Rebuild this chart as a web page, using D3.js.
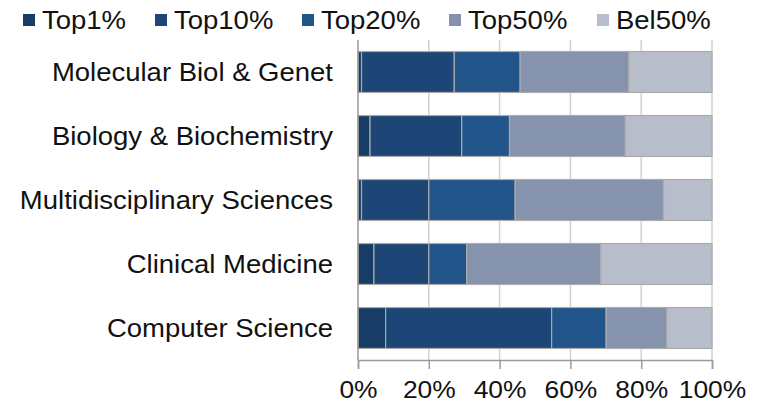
<!DOCTYPE html>
<html><head><meta charset="utf-8">
<script src="https://cdn.jsdelivr.net/npm/d3@7/dist/d3.min.js"></script>
<style>body{margin:0;background:#fff}svg{display:block}text{font-family:"Liberation Sans",Arial,sans-serif;fill:#111}</style>
</head><body><svg id="c" width="760" height="402"></svg>
<script>
const categories = ["Molecular Biol & Genet","Biology & Biochemistry","Multidisciplinary Sciences","Clinical Medicine","Computer Science"];
const seriesNames = ["Top1%","Top10%","Top20%","Top50%","Bel50%"];
const top1   = [1.0, 3.4, 1.0, 4.5, 7.8];
const top10  = [26.2, 25.9, 19.0, 15.5, 46.9];
const top20  = [18.6, 13.5, 24.4, 10.7, 15.4];
const top50  = [30.7, 32.7, 41.9, 37.9, 17.1];
const bel50  = [23.5, 24.5, 13.7, 31.4, 12.8];
const tickValues = [0, 20, 40, 60, 80, 100];
const colors = ["#173c66","#1d4676","#215589","#8693ad","#b7bdca"];

const svg = d3.select("#c");
const m = {left:358, right:48, top:40, bottom:42};
const W = 760, H = 402;
const SX = 1.1; // horizontal text stretch seen in the reference
const x = d3.scaleLinear().domain([0,100]).range([m.left, W - m.right]);
const y = d3.scaleBand().domain(categories).range([m.top, H - m.bottom]).paddingInner(0.36).paddingOuter(0.18);

const rows = categories.map((c,i)=>({cat:c, "Top1%":top1[i], "Top10%":top10[i], "Top20%":top20[i], "Top50%":top50[i], "Bel50%":bel50[i]}));
const stack = d3.stack().keys(seriesNames)(rows);

// gridlines
svg.append("g").selectAll("line").data(tickValues.slice(1)).join("line")
  .attr("x1", d=>x(d)).attr("x2", d=>x(d)).attr("y1", m.top).attr("y2", H - m.bottom)
  .attr("stroke", "#d2d2d2").attr("stroke-width", 1.5);

// bars
svg.append("g").selectAll("g").data(stack).join("g")
  .attr("fill", (d,i)=>colors[i])
  .selectAll("rect").data(d=>d).join("rect")
  .attr("x", d=>x(d[0])).attr("width", d=>x(d[1])-x(d[0]))
  .attr("y", d=>y(d.data.cat)).attr("height", y.bandwidth())
  .attr("stroke", "#ababab").attr("stroke-width", 1.2);

// x axis
const xa = svg.append("g").attr("transform", `translate(0,${H - m.bottom})`)
  .call(d3.axisBottom(x).tickValues(tickValues).tickFormat(d=>d+"%").tickSize(9).tickPadding(12));
xa.select(".domain").attr("stroke", "#9a9a9a").attr("stroke-width", 1.5);
xa.selectAll(".tick line").attr("stroke", "#9a9a9a").attr("stroke-width", 1.5);
xa.selectAll("text").attr("font-size", 24).attr("fill", "#111")
  .attr("font-family", '"Liberation Sans",Arial,sans-serif')
  .attr("transform", `scale(${SX},1)`);

// y axis line
svg.append("line").attr("x1", m.left).attr("x2", m.left).attr("y1", m.top).attr("y2", H - m.bottom)
  .attr("stroke", "#9a9a9a").attr("stroke-width", 1.5);

// category labels
svg.append("g").selectAll("text").data(categories).join("text")
  .attr("transform", d=>`translate(${m.left - 25},${y(d) + y.bandwidth()/2}) scale(${SX},1)`)
  .attr("dy", "0.36em").attr("text-anchor", "end").attr("font-size", 25).text(d=>d);

// legend
const legX = [23, 155, 302, 449, 597];
const leg = svg.append("g").selectAll("g").data(seriesNames).join("g")
  .attr("transform", (d,i)=>`translate(${legX[i]},14)`);
leg.append("rect").attr("width", 12).attr("height", 12).attr("fill", (d,i)=>colors[i]);
leg.append("text").attr("transform", `translate(19,14.5) scale(${SX},1)`).attr("font-size", 25).text(d=>d);
</script></body></html>
